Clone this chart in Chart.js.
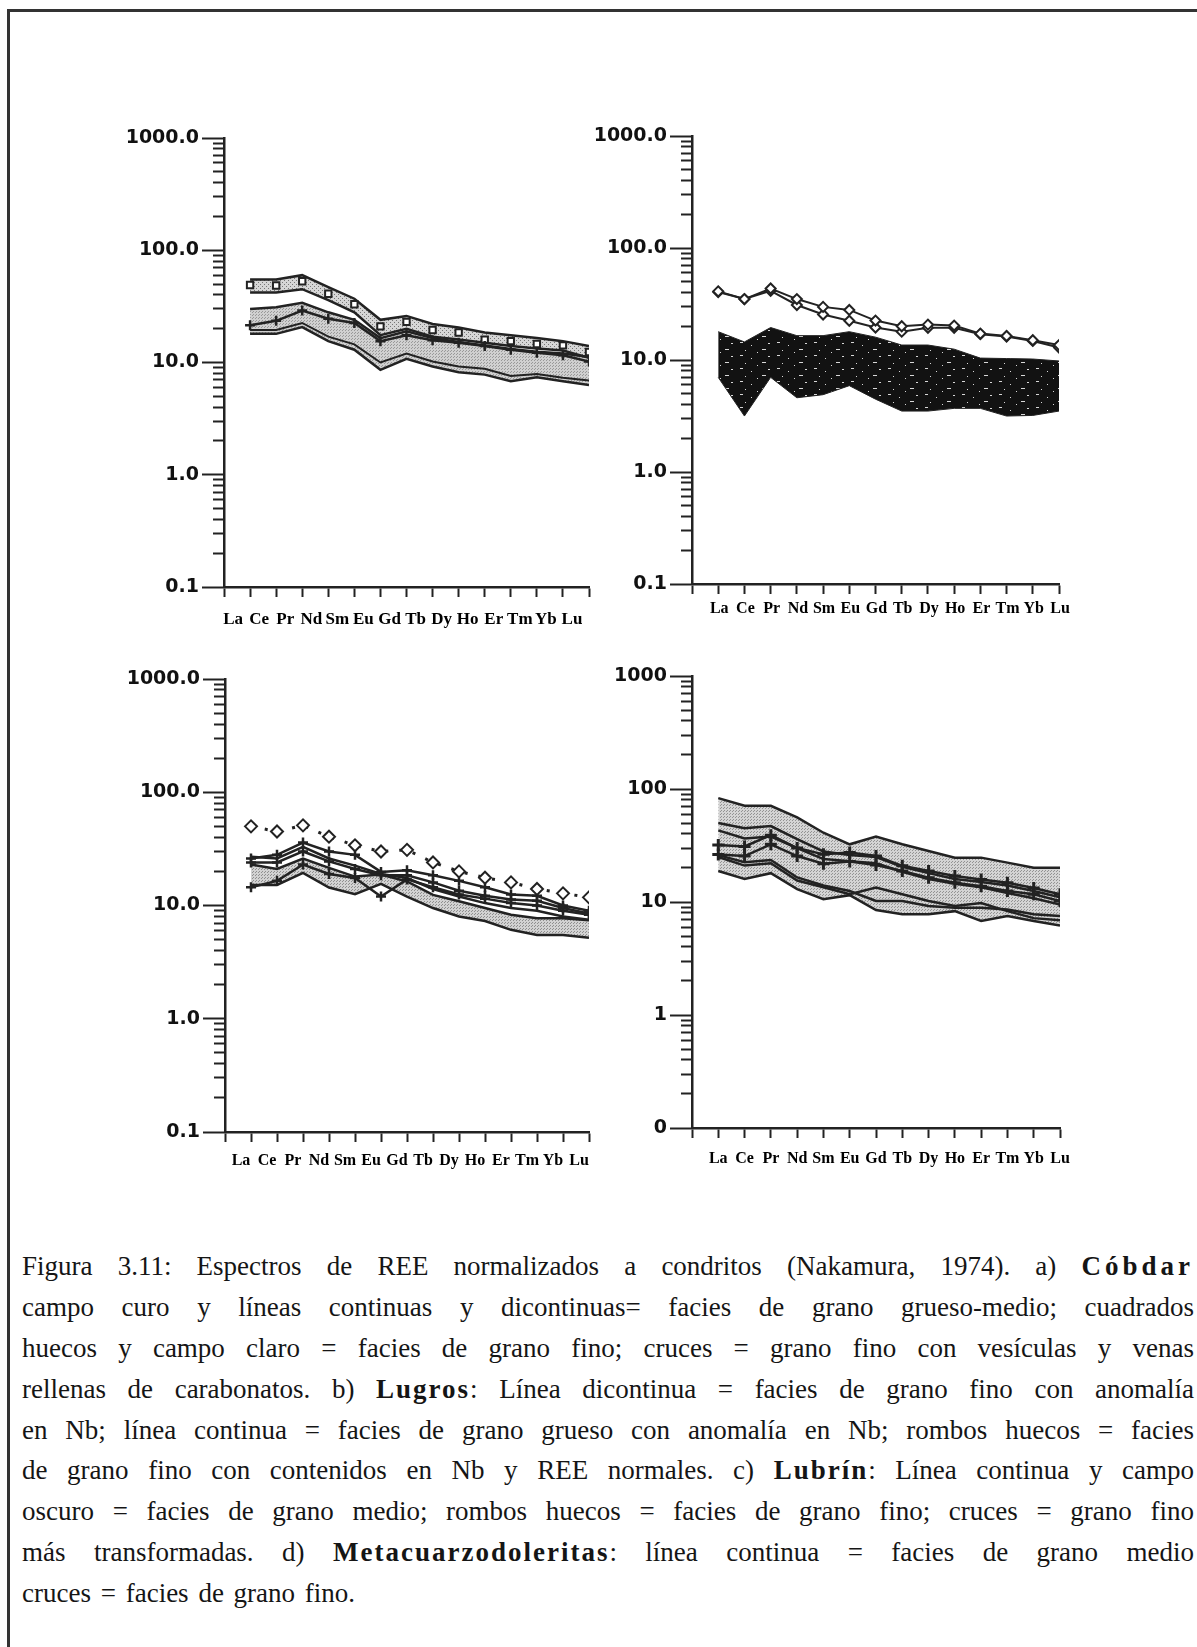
<!DOCTYPE html>
<html><head><meta charset="utf-8">
<script src="https://cdn.jsdelivr.net/npm/chart.js@4.4.0/dist/chart.umd.min.js"></script>
<style>
html,body{margin:0;padding:0;background:#fff;}
body{width:1197px;height:1647px;overflow:hidden;position:relative;}
.frame{position:absolute;left:7px;top:9px;width:1300px;height:1800px;border-top:3px solid #333;border-left:3px solid #333;}
canvas{position:absolute;}
.cap{position:absolute;left:22px;width:1172px;top:1246px;font-family:'Liberation Serif','Times New Roman',serif;font-size:27px;color:#151515;}
.cap div{height:40.9px;line-height:40.9px;text-align:justify;text-align-last:justify;white-space:normal;}
.cap div.last{text-align-last:left;word-spacing:3px;}
.cap b{letter-spacing:2px;}
.cap b.w{letter-spacing:4px;}
</style></head>
<body>
<div class="frame"></div>
<canvas id="pa"></canvas><canvas id="pb"></canvas><canvas id="pc"></canvas><canvas id="pd"></canvas>
<div class="cap">
<div>Figura 3.11: Espectros de REE normalizados a condritos (Nakamura, 1974). a) <b class="w">Cóbdar</b></div>
<div>campo curo y líneas continuas y dicontinuas= facies de grano grueso-medio; cuadrados</div>
<div>huecos y campo claro = facies de grano fino; cruces = grano fino con vesículas y venas</div>
<div>rellenas de carabonatos. b) <b>Lugros</b>: Línea dicontinua = facies de grano fino con anomalía</div>
<div>en Nb; línea continua = facies de grano grueso con anomalía en Nb; rombos huecos = facies</div>
<div>de grano fino con contenidos en Nb y REE normales. c) <b>Lubrín</b>: Línea continua y campo</div>
<div>oscuro = facies de grano medio; rombos huecos = facies de grano fino; cruces = grano fino</div>
<div>más transformadas. d) <b>Metacuarzodoleritas</b>: línea continua = facies de grano medio</div>
<div class="last">cruces = facies de grano fino.</div>
</div>
<script>
// ---- categories and tick labels ----
const categories = ['La','Ce','Pr','Nd','Sm','Eu','Gd','Tb','Dy','Ho','Er','Tm','Yb','Lu'];
const yTickLabelsABC = ['0.1','1.0','10.0','100.0','1000.0'];
const yTickLabelsD = ['0','1','10','100','1000'];

// ---- a) Cóbdar ----
const a_fineTop      = [55, 55, 60, 47, 37, 24, 26, 22, 20.5, 18.5, 17.5, 16.5, 15.5, 14];
const a_fineBottom   = [42, 42, 45, 36, 28, 17.5, 20, 17, 16, 15, 14, 13.3, 12.8, 11];
const a_squares      = [49, 48.5, 53, 41, 33, 21, 23, 19.5, 18.5, 16, 15.5, 14.6, 14.2, 12.4];
const a_crosses      = [21.5, 23.5, 29, 24.5, 22.5, 15.5, 17.5, 15.8, 15, 14, 13, 12.2, 11.6, 10.2];
const a_coarseTop    = [30, 31, 34, 28, 24, 16.5, 19, 16.5, 15.2, 14.2, 13.2, 12.5, 12, 11.2];
const a_coarseBottom = [18, 18, 20.7, 15.5, 13, 8.6, 10.8, 9.2, 8.2, 7.8, 6.8, 7.4, 6.8, 6.3];
const a_coarseLine   = [19.5, 19.5, 22.5, 17, 14.5, 10, 12, 10.2, 9.2, 8.8, 7.6, 7.9, 7.3, 6.9];

// ---- b) Lugros ----
const b_fieldTop    = [17.9, 14.5, 19.5, 16.5, 16.5, 17.9, 16.0, 13.6, 13.6, 12.5, 10.4, 10.3, 10.2, 9.8];
const b_fieldBottom = [7.0, 3.16, 7.0, 4.6, 4.9, 5.9, 4.47, 3.5, 3.5, 3.7, 3.7, 3.16, 3.2, 3.5];
const b_dashed      = [41, 35, 43.5, 35, 29.8, 28, 22.5, 20, 20.7, 20.3, 17.2, 16.4, 15, 13.6];
const b_solid       = [40.5, 35, 41.5, 31, 25.5, 22.4, 19.5, 17.9, 19.4, 19.4, 17, 16.2, 14.8, 12.9];

// ---- c) Lubrín ----
const c_diamonds    = [50, 45, 51, 40.5, 34, 30, 31, 24, 20, 17.6, 16, 14, 12.8, 11.8];
const c_crosses1    = [26, 28, 36, 30, 28, 19.8, 20.5, 18.5, 16.5, 14.5, 12.5, 12.2, 10, 9];
const c_crosses2    = [24, 24, 30, 24.5, 21, 18.5, 18.5, 16, 13.5, 12.2, 11.3, 11, 9.5, 8.5];
const c_crosses3    = [14.5, 16.5, 23, 19, 17.5, 12, 17, 14.5, 12.5, 11.5, 10.5, 10, 9, 8.3];
const c_fieldTop    = [23, 21, 26, 21.5, 18, 18.8, 16.3, 12.4, 10.9, 9.5, 8.3, 7.7, 7.7, 7.4];
const c_fieldBottom = [15.2, 15.2, 19.4, 14.4, 12.6, 15.5, 12, 9.5, 8, 7.3, 6.1, 5.5, 5.5, 5.2];
const c_solid       = [27, 26, 33, 26, 22.5, 19, 17.5, 14, 12, 10.5, 9.5, 9, 8, 7.5];

// ---- d) Metacuarzodoleritas ----
const d_fieldTop    = [83, 71, 71, 56, 41, 32.4, 38, 32.4, 28.3, 24.7, 24.7, 22.3, 20.1, 20.1];
const d_fieldBottom = [18.8, 16, 18, 13, 10.6, 11.5, 8.5, 7.8, 7.8, 8.3, 6.8, 7.5, 6.8, 6.2];
const d_crosses1    = [32, 31, 39, 30, 26.4, 27.4, 25.5, 20.9, 18.8, 17, 15.8, 14.8, 13.3, 11.7];
const d_crosses2    = [26.3, 25.5, 32.4, 25.5, 21.8, 22.8, 21.2, 18.8, 16.4, 14.8, 13.8, 12.5, 11.7, 10.2];
const d_line1       = [50, 45, 47, 36, 28, 26, 25, 20.5, 18, 16, 15, 14, 12.5, 11];
const d_line2       = [43, 36.5, 38, 30, 24, 23, 22, 18.5, 16, 14.5, 13.5, 12, 10.8, 9.5];
const d_line3       = [26, 22.5, 23.5, 16.5, 14, 12.5, 10.2, 10.2, 9.2, 8.9, 8.9, 8.6, 7.8, 7.5];
const d_line4       = [25, 21, 22, 15.5, 13.5, 11.7, 13.4, 11.7, 10.2, 9.2, 9.8, 8.3, 7.2, 6.9];

// ---- helpers ----
const INK = '#222';
const xTickValues = Array.from({length: categories.length + 1}, (_, i) => i);
const yTickValues = [];
[0.1, 1, 10, 100].forEach(d => { for (let k = 1; k <= 9; k++) yTickValues.push(+(k * d).toPrecision(6)); });
yTickValues.push(1000);
const isDecade = v => Math.abs(Math.log10(v) - Math.round(Math.log10(v))) < 1e-9;
const pts = arr => arr.map((v, i) => ({x: i + 1, y: v}));

function makePattern(w, h, bg, dotColor, dots) {
  const c = document.createElement('canvas'); c.width = w; c.height = h;
  const g = c.getContext('2d'); g.fillStyle = bg; g.fillRect(0, 0, w, h);
  g.fillStyle = dotColor; dots.forEach(([x, y, s, t]) => g.fillRect(x, y, s || 1, t || 1));
  return g.createPattern(c, 'repeat');
}
const patA1 = makePattern(4, 4, '#d6d6d6', '#777', [[0,0],[2,2]]);
const patA2 = makePattern(3, 3, '#d0d0d0', '#999', [[0,0],[1,2]]);
const patB  = makePattern(37, 13, '#121212', '#d8d8d8', [[3,2,3,1],[14,5],[25,9,4,1],[8,10],[31,3,2,1],[20,12]]);
const patC  = makePattern(3, 3, '#d2d2d2', '#8f8f8f', [[0,0],[2,1]]);
const patD  = makePattern(3, 3, '#d4d4d4', '#939393', [[0,0],[1,2]]);

function band(top, bottom, fillStyle, lw) {
  return [
    {data: pts(top), borderColor: INK, borderWidth: lw, pointRadius: 0, fill: '+1', backgroundColor: fillStyle},
    {data: pts(bottom), borderColor: INK, borderWidth: lw, pointRadius: 0, fill: false}
  ];
}
function line(vals, opts) {
  return Object.assign({data: pts(vals), borderColor: INK, borderWidth: 2.5, pointRadius: 0, fill: false,
    pointBorderColor: INK, pointBackgroundColor: INK}, opts || {});
}

function panel(id, area, yLabels, xLabelOffset, xLabelPad, xFont, datasets) {
  const padL = 140, padT = 30, padR = 40, padB = 60;
  const cv = document.getElementById(id);
  const w = area.r - area.l + padL + padR, h = area.b - area.t + padT + padB;
  cv.width = w; cv.height = h;
  cv.style.left = (area.l - padL) + 'px'; cv.style.top = (area.t - padT) + 'px';
  cv.style.width = w + 'px'; cv.style.height = h + 'px';
  new Chart(cv, {
    type: 'line',
    data: {datasets},
    options: {
      responsive: false, animation: false, events: [], devicePixelRatio: 1,
      elements: {line: {tension: 0}},
      layout: {padding: {left: 0, top: padT, right: padR, bottom: 0}},
      plugins: {legend: {display: false}, tooltip: {enabled: false}, filler: {drawTime: 'beforeDatasetsDraw'}},
      scales: {
        x: {
          type: 'linear', min: 0, max: categories.length,
          afterFit: s => { s.height = padB; },
          afterBuildTicks: s => { s.ticks = xTickValues.map(v => ({value: v})); },
          grid: {drawOnChartArea: false, drawTicks: true, tickLength: 10, tickWidth: 2, tickColor: INK},
          border: {display: true, color: INK, width: 2.5},
          ticks: {autoSkip: false, maxRotation: 0, minRotation: 0, padding: xLabelPad, labelOffset: xLabelOffset,
            color: '#000', font: xFont, callback: v => categories[v - 1] || ''}
        },
        y: {
          type: 'logarithmic', min: 0.1, max: 1000,
          afterFit: s => { s.width = padL; },
          afterBuildTicks: s => { s.ticks = yTickValues.map(v => ({value: v})); },
          grid: {drawOnChartArea: false, drawTicks: true, tickLength: 22, tickWidth: 2, tickColor: INK,
            tickBorderDash: c => (c.tick && !isDecade(c.tick.value)) ? [0, 11, 11, 0] : []},
          border: {display: true, color: INK, width: 2.5},
          ticks: {autoSkip: false, padding: 3, color: '#111',
            font: {family: 'DejaVu Sans', weight: 'bold', size: 19},
            callback: v => isDecade(v) ? yLabels[Math.round(Math.log10(v)) + 1] : ''}
        }
      }
    }
  });
}

const serifA = {family: 'Liberation Serif', weight: 'bold', size: 17};
const serifB = {family: 'Liberation Serif', weight: 'bold', size: 16};

// a)
panel('pa', {l: 224, r: 589, t: 138, b: 587}, yTickLabelsABC, -17, 12, serifA, [
  line(a_crosses, {pointStyle: 'cross', pointRadius: 5, pointBorderWidth: 2.5}),
  line(a_squares, {showLine: false, pointStyle: 'rect', pointRadius: 4.5, pointBorderWidth: 2, pointBackgroundColor: '#fff'}),
  line(a_coarseLine, {borderWidth: 2}),
  ...band(a_fineTop, a_fineBottom, patA1, 2.5),
  ...band(a_coarseTop, a_coarseBottom, patA2, 2.5)
]);

// b)
panel('pb', {l: 692, r: 1059, t: 136, b: 584}, yTickLabelsABC, 1, 5, serifB, [
  line(b_dashed, {borderWidth: 2, pointStyle: 'rectRot', pointRadius: 5, pointBorderWidth: 2, pointBackgroundColor: '#fff'}),
  line(b_solid, {borderWidth: 2, pointStyle: 'rectRot', pointRadius: 5, pointBorderWidth: 2, pointBackgroundColor: '#fff'}),
  ...band(b_fieldTop, b_fieldBottom, patB, 1)
]);

// c)
panel('pc', {l: 225, r: 589, t: 679, b: 1132}, yTickLabelsABC, -10, 9, serifB, [
  line(c_diamonds, {borderWidth: 3, borderDash: [3, 11], pointStyle: 'rectRot', pointRadius: 6, pointBorderWidth: 2, pointBackgroundColor: '#fff'}),
  line(c_crosses1, {pointStyle: 'cross', pointRadius: 5, pointBorderWidth: 2.5}),
  line(c_crosses2, {pointStyle: 'cross', pointRadius: 5, pointBorderWidth: 2.5}),
  line(c_crosses3, {pointStyle: 'cross', pointRadius: 5, pointBorderWidth: 2.5}),
  line(c_solid, {borderWidth: 2.5}),
  ...band(c_fieldTop, c_fieldBottom, patC, 2.5)
]);

// d)
panel('pd', {l: 692, r: 1060, t: 676, b: 1128}, yTickLabelsD, 0, 11, serifB, [
  line(d_crosses1, {pointStyle: 'cross', pointRadius: 6, pointBorderWidth: 3}),
  line(d_crosses2, {pointStyle: 'cross', pointRadius: 6, pointBorderWidth: 3}),
  line(d_line1, {borderWidth: 2.5}),
  line(d_line2, {borderWidth: 2.5}),
  line(d_line3, {borderWidth: 2.5}),
  line(d_line4, {borderWidth: 2.5}),
  ...band(d_fieldTop, d_fieldBottom, patD, 2.5)
]);
</script>
</body></html>
